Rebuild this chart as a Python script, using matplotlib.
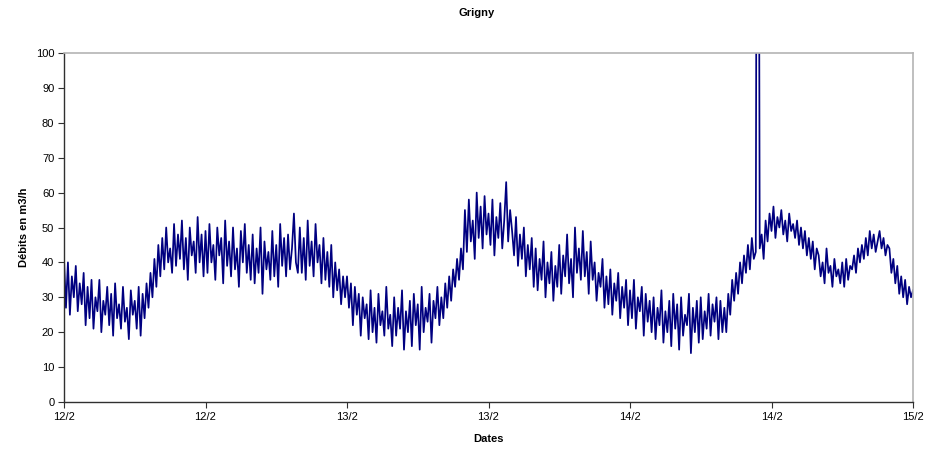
import numpy as np
import pandas as pd
import matplotlib
matplotlib.use("Agg")
import matplotlib.pyplot as plt
import matplotlib.dates as mdates

# debit readings every 10 minutes, 12/2 00:00 -> 15/2 00:00 (one row = 2 hours)
debits = [
    41, 27, 40, 25, 36, 30, 39, 26, 34, 28, 37, 22,
    33, 24, 35, 21, 30, 26, 35, 20, 29, 25, 33, 22,
    31, 19, 34, 24, 28, 21, 33, 23, 27, 18, 32, 25,
    29, 21, 33, 19, 31, 24, 34, 27, 37, 30, 41, 33,
    45, 36, 47, 38, 50, 40, 44, 37, 51, 39, 48, 41,
    52, 38, 47, 35, 50, 42, 46, 37, 53, 40, 48, 36,
    49, 37, 51, 40, 45, 35, 50, 42, 47, 34, 52, 39,
    46, 36, 50, 38, 44, 33, 49, 40, 51, 37, 45, 35,
    48, 34, 44, 37, 50, 31, 46, 38, 43, 35, 49, 36,
    45, 33, 51, 39, 47, 36, 48, 38, 44, 54, 40, 37,
    50, 37, 47, 35, 52, 39, 46, 36, 51, 40, 45, 34,
    47, 35, 43, 33, 45, 30, 40, 32, 38, 28, 36, 30,
    36, 27, 34, 22, 33, 25, 31, 19, 30, 24, 28, 18,
    32, 20, 27, 17, 31, 22, 26, 19, 33, 21, 25, 16,
    30, 19, 27, 21, 32, 15, 26, 20, 29, 16, 31, 22,
    28, 15, 33, 20, 27, 23, 31, 17, 29, 24, 33, 22,
    30, 24, 34, 27, 36, 29, 38, 33, 41, 35, 44, 38,
    55, 43, 58, 46, 52, 41, 60, 47, 56, 44, 59, 48,
    54, 45, 58, 42, 53, 47, 57, 44, 52, 63, 46, 55,
    49, 42, 53, 39, 48, 41, 50, 36, 45, 38, 47, 33,
    44, 32, 41, 35, 46, 30, 40, 34, 43, 29, 39, 33,
    45, 31, 42, 36, 48, 34, 41, 30, 50, 37, 44, 35,
    49, 36, 43, 31, 46, 35, 40, 29, 37, 33, 41, 27,
    36, 28, 38, 25, 34, 29, 37, 24, 33, 27, 35, 22,
    32, 24, 35, 21, 30, 26, 33, 19, 31, 23, 29, 20,
    30, 18, 27, 22, 32, 17, 26, 20, 29, 16, 31, 21,
    28, 15, 30, 19, 25, 22, 31, 14, 27, 20, 29, 17,
    30, 18, 26, 21, 31, 19, 28, 23, 30, 18, 29, 20,
    27, 20, 31, 25, 35, 29, 37, 31, 40, 34, 42, 37,
    45, 38, 47, 41, 43, 300, 44, 48, 41, 52, 46, 54,
    49, 56, 47, 53, 50, 55, 48, 52, 46, 54, 49, 51,
    47, 52, 45, 50, 44, 49, 42, 47, 41, 46, 38, 44,
    42, 36, 40, 34, 44, 37, 39, 33, 41, 36, 38, 34,
    40, 33, 41, 35, 39, 38, 42, 37, 44, 40, 45, 41,
    47, 42, 49, 44, 48, 43, 46, 49, 44, 47, 42, 45,
    44, 37, 41, 34, 39, 31, 36, 30, 35, 28, 33, 30,
    32,
]
dates = pd.date_range("2009-02-12 00:00", periods=len(debits), freq="10min")

titre = "Grigny"
label_x = "Dates"
label_y = "Débits en m3/h"

fig = plt.figure(figsize=(9.48, 4.5), dpi=100)
ax = fig.add_axes([64 / 948, 48 / 450, 849 / 948, 349 / 450])

ax.plot(dates, debits, color="#000080", linewidth=1.25)

ax.set_xlim(dates[0], dates[-1])
ax.set_ylim(0, 100)
ax.set_yticks(range(0, 101, 10))
ax.xaxis.set_major_locator(mdates.HourLocator(byhour=[0, 12]))
ax.xaxis.set_major_formatter(plt.FuncFormatter(
    lambda v, pos: f"{mdates.num2date(v).day}/{mdates.num2date(v).month}"))

for s in ["left", "bottom"]:
    ax.spines[s].set_color("#303030")
    ax.spines[s].set_linewidth(1.0)
for s in ["top", "right"]:
    ax.spines[s].set_color("#b4b4b4")
    ax.spines[s].set_linewidth(1.2)

ax.tick_params(axis="both", direction="out", length=4, width=0.8,
               color="#303030", labelsize=8, pad=3)
for lab in ax.get_xticklabels() + ax.get_yticklabels():
    lab.set_family(["Liberation Sans", "DejaVu Sans"])

bold = dict(family=["Liberation Sans Narrow", "Liberation Sans", "DejaVu Sans"],
            fontweight="bold", fontsize=8)
fig.text(477 / 948, 1 - 13 / 450, titre, ha="center", va="center", **bold)
ax.set_xlabel(label_x, labelpad=9, **bold)
ax.set_ylabel(label_y, labelpad=5, **bold)

fig.savefig("out.png", dpi=100)
